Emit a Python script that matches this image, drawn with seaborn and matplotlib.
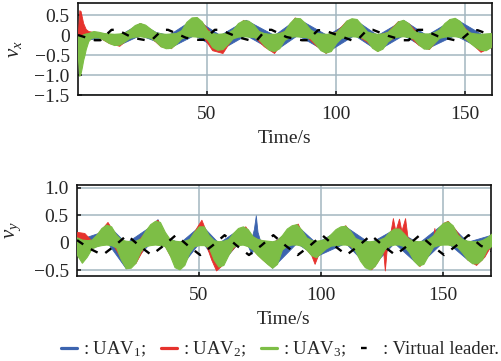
import matplotlib
matplotlib.use("Agg")
import matplotlib.pyplot as plt
from matplotlib.lines import Line2D
import seaborn as sns

# ---------------- data ----------------
# v_x panel: UAV envelopes (upper / lower) sampled over time
vx_t = [0, 0.5, 1, 1.5, 2, 2.5, 3, 4, 5] + list(range(6, 161, 2))
vx_uav3_hi = [0.0, -0.05, -0.02, 0.0, 0.02, 0.03, 0.04, 0.05, 0.08,
              0.1, 0.08, 0.05, 0.04, 0.03, 0.04, 0.06, 0.14, 0.25, 0.3,
              0.26, 0.16, 0.07, 0.04, 0.03, 0.04, 0.05, 0.12, 0.33, 0.44,
              0.45, 0.34, 0.12, 0.05, 0.03, 0.04, 0.06, 0.14, 0.3, 0.37,
              0.36, 0.26, 0.1, 0.05, 0.03, 0.03, 0.05, 0.1, 0.3, 0.43,
              0.42, 0.3, 0.14, 0.06, 0.04, 0.03, 0.04, 0.07, 0.2, 0.36,
              0.42, 0.4, 0.25, 0.09, 0.05, 0.03, 0.04, 0.08, 0.2, 0.34,
              0.38, 0.3, 0.12, 0.06, 0.04, 0.04, 0.07, 0.14, 0.3, 0.4,
              0.43, 0.35, 0.15, 0.06, 0.04, 0.03, 0.04, 0.05]
vx_uav3_lo = [-0.6, -1.02, -0.95, -0.8, -0.62, -0.5, -0.35, -0.15, -0.08,
              -0.06, -0.06, -0.12, -0.2, -0.25, -0.24, -0.16, -0.07, -0.04, -0.03,
              -0.05, -0.07, -0.15, -0.28, -0.33, -0.32, -0.22, -0.08, -0.04, -0.03,
              -0.04, -0.05, -0.1, -0.3, -0.37, -0.35, -0.22, -0.08, -0.04, -0.03,
              -0.04, -0.05, -0.1, -0.25, -0.37, -0.4, -0.33, -0.12, -0.05, -0.03,
              -0.04, -0.05, -0.08, -0.22, -0.38, -0.44, -0.4, -0.2, -0.07, -0.04,
              -0.03, -0.04, -0.06, -0.14, -0.32, -0.4, -0.34, -0.16, -0.06, -0.04,
              -0.03, -0.05, -0.09, -0.24, -0.34, -0.34, -0.2, -0.07, -0.04, -0.03,
              -0.03, -0.05, -0.08, -0.2, -0.3, -0.37, -0.38, -0.3]

vx_uav2_t = [0, 0.5, 1, 1.5, 2, 3, 4] + list(range(8, 161, 4))
vx_uav2_hi = [0.1, 0.62, 0.6, 0.45, 0.3, 0.15, 0.1,
              0.05, 0.0, 0.0, 0.12, 0.3, 0.1, 0.0, 0.0, 0.1, 0.42,
              0.32, 0.02, 0.0, 0.1, 0.38, 0.2, 0.0, 0.0, 0.1, 0.44,
              0.25, 0.0, 0.0, 0.08, 0.36, 0.36, 0.05, 0.0, 0.08, 0.35,
              0.3, 0.02, 0.0, 0.1, 0.4, 0.3, 0.05, 0.0, 0.03]
vx_uav2_lo = [-0.1, 0.0, 0.0, 0.0, 0.0, -0.02, -0.05,
              -0.05, -0.2, -0.27, -0.04, 0.0, -0.05, -0.28, -0.33, -0.06, 0.0,
              0.0, -0.38, -0.45, -0.05, 0.0, -0.02, -0.28, -0.45, -0.08, 0.0,
              0.0, -0.25, -0.45, -0.1, 0.0, 0.0, -0.17, -0.4, -0.15, 0.0,
              -0.02, -0.25, -0.35, -0.05, 0.0, 0.0, -0.18, -0.42, -0.3]

vx_uav1_t = [0, 2, 4, 10, 16, 24, 30, 35, 45, 55, 65, 76, 85, 96.5,
             107, 116, 126, 135, 146, 157, 160]
vx_uav1_hi = [0.0, 0.1, 0.05, 0.04, 0.0, 0.3, 0.08, 0.0, 0.42, 0.0, 0.38,
              0.0, 0.42, 0.0, 0.4, 0.0, 0.38, 0.0, 0.42, 0.0, 0.02]
vx_uav1_lo = [-0.3, -0.4, -0.1, -0.08, -0.24, 0.0, -0.15, -0.33, 0.0, -0.37,
              0.0, -0.4, 0.0, -0.42, 0.0, -0.38, 0.0, -0.34, 0.0, -0.36, -0.28]

vx_leader_t = [0, 6.5, 8.7, 13, 15.2, 21.2, 26.3, 28.5, 32.7, 34.9, 41.9,
               46.6, 48.8, 53, 55.2, 61.8, 67, 69.2, 72.8, 75, 80.8, 86.8,
               89, 93, 95.2, 100.5, 106, 108.2, 112.1, 114.3, 120.2, 126,
               128.2, 131.7, 133.9, 139.5, 146, 148.2, 152.7, 154.9, 160]
vx_leader_v = [0.0, -0.13, -0.13, 0.13, 0.13, -0.07, -0.13, -0.13, 0.13, 0.13,
               -0.07, -0.12, -0.12, 0.13, 0.13, -0.05, -0.14, -0.14, 0.13, 0.13,
               -0.05, -0.13, -0.13, 0.12, 0.12, 0.0, -0.13, -0.13, 0.13, 0.13,
               -0.02, -0.13, -0.13, 0.13, 0.13, -0.03, -0.13, -0.13, 0.12, 0.12,
               0.0]

# v_y panel
vy_t = list(range(0, 171, 2))
vy_uav3_hi = [0.1, 0.06, 0.05, 0.06, 0.15, 0.27, 0.33, 0.3, 0.15, 0.06,
              0.04, 0.03, 0.04, 0.08, 0.22, 0.34, 0.4, 0.38, 0.2, 0.07,
              0.04, 0.03, 0.04, 0.07, 0.2, 0.3, 0.3, 0.14, 0.05, 0.03,
              0.04, 0.07, 0.18, 0.27, 0.3, 0.25, 0.12, 0.07, 0.05, 0.04,
              0.03, 0.05, 0.14, 0.26, 0.32, 0.34, 0.24, 0.1, 0.05, 0.04,
              0.05, 0.08, 0.16, 0.25, 0.3, 0.31, 0.22, 0.09, 0.05, 0.03,
              0.03, 0.04, 0.06, 0.1, 0.2, 0.26, 0.26, 0.17, 0.07, 0.04,
              0.03, 0.04, 0.07, 0.14, 0.27, 0.36, 0.39, 0.32, 0.15, 0.07,
              0.04, 0.03, 0.03, 0.05, 0.1, 0.17]
vy_uav3_lo = [-0.22, -0.36, -0.25, -0.1, -0.06, -0.04, -0.03, -0.04, -0.08, -0.3,
              -0.46, -0.45, -0.36, -0.15, -0.06, -0.04, -0.03, -0.04, -0.06, -0.22,
              -0.44, -0.48, -0.4, -0.18, -0.06, -0.04, -0.04, -0.08, -0.3, -0.43,
              -0.4, -0.22, -0.07, -0.04, -0.03, -0.06, -0.12, -0.22, -0.3, -0.38,
              -0.45, -0.38, -0.12, -0.05, -0.03, -0.03, -0.05, -0.12, -0.22, -0.26,
              -0.18, -0.1, -0.05, -0.04, -0.03, -0.03, -0.05, -0.14, -0.32, -0.44,
              -0.48, -0.42, -0.28, -0.12, -0.05, -0.03, -0.03, -0.06, -0.16, -0.32,
              -0.41, -0.38, -0.22, -0.07, -0.04, -0.03, -0.03, -0.05, -0.08, -0.18,
              -0.3, -0.37, -0.37, -0.3, -0.12, -0.05]

vy_uav2_t = [0, 3, 6, 10, 12.5, 15, 18, 20.5, 24, 28, 30, 33, 36, 38, 42, 46,
             49, 51, 53, 55, 57, 59, 62, 66, 69, 72, 76, 80, 84, 88, 90.5, 93,
             96, 97.4, 99, 102, 106, 110, 114, 118, 120.6, 123, 125.5, 126.2,
             127, 128.5, 129.5, 130.5, 132, 133, 134.5, 135.5, 138, 140.4, 144,
             146, 146.5, 147, 150, 152, 155, 158, 160, 163.6, 167, 170]
vy_uav2_hi = [0.2, 0.18, 0.04, 0.25, 0.38, 0.2, 0.02, 0.0, 0.0, 0.2, 0.32,
              0.42, 0.14, 0.03, 0.0, 0.05, 0.28, 0.42, 0.2, 0.05, 0.0, 0.0,
              0.04, 0.24, 0.3, 0.1, 0.04, 0.0, 0.12, 0.3, 0.35, 0.1, 0.02,
              0.0, 0.02, 0.05, 0.22, 0.32, 0.06, 0.0, 0.0, 0.03, 0.08, 0.1,
              0.12, 0.2, 0.45, 0.22, 0.44, 0.22, 0.45, 0.1, 0.02, 0.0, 0.05,
              0.08, 0.27, 0.12, 0.36, 0.4, 0.25, 0.05, 0.02, 0.0, 0.02, 0.14]
vy_uav2_lo = [-0.1, -0.05, -0.06, 0.0, 0.02, -0.05, -0.28, -0.44, -0.36,
              -0.04, 0.0, 0.02, -0.05, -0.22, -0.46, -0.14, -0.02, 0.0, -0.05,
              -0.3, -0.5, -0.42, -0.2, 0.0, 0.0, -0.12, -0.3, -0.44, -0.1, 0.0,
              0.0, -0.06, -0.22, -0.38, -0.2, -0.08, 0.0, 0.0, -0.12, -0.42,
              -0.48, -0.35, -0.15, -0.5, -0.1, -0.03, 0.0, 0.0, 0.0, 0.0, -0.02,
              -0.08, -0.3, -0.42, -0.2, -0.05, -0.04, -0.03, 0.02, 0.02, 0.0,
              -0.15, -0.3, -0.4, -0.25, -0.02]

vy_uav1_t = [0, 10, 12.5, 20, 30, 33, 36, 42, 50, 52, 58, 66, 70, 71.5, 72.5,
             73.3, 74, 75, 80, 90, 98, 110, 120, 130, 140, 150, 152, 160, 170]
vy_uav1_hi = [0.05, 0.2, 0.33, 0.0, 0.3, 0.43, 0.12, 0.0, 0.3, 0.28, 0.0,
              0.24, 0.2, 0.08, 0.25, 0.5, 0.2, 0.05, 0.0, 0.32, 0.0, 0.3, 0.0,
              0.25, 0.0, 0.35, 0.37, 0.02, 0.15]
vy_uav1_lo = [-0.2, -0.02, 0.0, -0.46, 0.0, 0.02, -0.04, -0.45, 0.0, -0.02,
              -0.42, 0.0, -0.05, -0.2, -0.1, -0.05, -0.1, -0.22, -0.45, 0.0,
              -0.24, 0.0, -0.46, 0.0, -0.4, 0.02, 0.0, -0.3, -0.02]

vy_leader_t = [0, 5, 10.5, 15.5, 20.5, 25.5, 30.5, 35.5, 40.5, 45.5, 50.5,
               55.5, 60.5, 65.5, 70.5, 75.5, 80.5, 85.5, 90.5, 95.5, 100.5,
               105.5, 110.5, 115.5, 120.5, 125.5, 130.5, 135.5, 140.5, 145.5,
               150.5, 155.5, 160.5, 165.5, 170]
vy_leader_v = [0.05, -0.1, -0.22, -0.05, 0.14, -0.05, -0.22, -0.05, 0.14,
               -0.05, -0.22, -0.05, 0.14, -0.05, -0.22, -0.05, 0.14, -0.05,
               -0.22, -0.05, 0.14, -0.05, -0.22, -0.05, 0.14, -0.05, -0.22,
               -0.05, 0.14, -0.05, -0.22, -0.05, 0.14, -0.05, -0.15]

vx_yticks = [0.5, 0, -0.5, -1.0, -1.5]
vx_yticklabels = ["0.5", "0", "\u22120.5", "\u22121.0", "\u22121.5"]
vy_yticks = [1.0, 0.5, 0, -0.5]
vy_yticklabels = ["1.0", "0.5", "0", "\u22120.5"]
x_ticks = [50, 100, 150]
series_names = [": UAV$_1$;", ": UAV$_2$;", ": UAV$_3$;", ": Virtual leader."]

# ---------------- style ----------------
sns.set_style("white")
plt.rcParams["font.family"] = ["Liberation Serif", "DejaVu Serif"]
plt.rcParams["mathtext.fontset"] = "custom"
plt.rcParams["mathtext.rm"] = "Liberation Serif"
plt.rcParams["mathtext.it"] = "Liberation Serif:italic"

C_BLUE = "#3C64AF"
C_RED = "#E6322D"
C_GREEN = "#7DBE46"
C_GRID = "#A3B6C0"
FS = 14

fig = plt.figure(figsize=(5.02, 3.61), dpi=100)
ax_top = fig.add_axes([0.1554, 0.7368, 0.8239, 0.2548])
ax_bot = fig.add_axes([0.1534, 0.2355, 0.8241, 0.2521])


def draw_panel(ax, b_t, b_hi, b_lo, r_t, r_hi, r_lo, g_t, g_hi, g_lo, l_t, l_v):
    ax.fill_between(b_t, b_lo, b_hi, color=C_BLUE, lw=0.6, zorder=2)
    ax.fill_between(r_t, r_lo, r_hi, color=C_RED, lw=0.6, zorder=3)
    ax.fill_between(g_t, g_lo, g_hi, color=C_GREEN, lw=0.8, zorder=4)
    sns.lineplot(x=l_t, y=l_v, ax=ax, color="black", linewidth=1.7,
                 linestyle=(0, (3.2, 3.8)), zorder=5)


draw_panel(ax_top, vx_uav1_t, vx_uav1_hi, vx_uav1_lo,
           vx_uav2_t, vx_uav2_hi, vx_uav2_lo,
           vx_t, vx_uav3_hi, vx_uav3_lo, vx_leader_t, vx_leader_v)
draw_panel(ax_bot, vy_uav1_t, vy_uav1_hi, vy_uav1_lo,
           vy_uav2_t, vy_uav2_hi, vy_uav2_lo,
           vy_t, vy_uav3_hi, vy_uav3_lo, vy_leader_t, vy_leader_v)

ax_top.set_xlim(0, 160.3)
ax_top.set_ylim(-1.5, 0.8)
ax_bot.set_xlim(0, 169.6)
ax_bot.set_ylim(-0.6, 1.05)

for ax, yt, yl, lab in [(ax_top, vx_yticks, vx_yticklabels, "$v_x$"),
                        (ax_bot, vy_yticks, vy_yticklabels, "$v_y$")]:
    ax.set_xticks(x_ticks)
    ax.set_xticklabels([str(v) for v in x_ticks])
    ax.set_yticks(yt)
    ax.set_yticklabels(yl)
    ax.grid(True, color=C_GRID, linewidth=1.1, zorder=1)
    ax.set_axisbelow(True)
    ax.tick_params(axis="both", direction="in", length=3, width=1.2,
                   color="#222222", labelsize=FS, bottom=True, left=True)
    ax.tick_params(axis="x", pad=8)
    ax.tick_params(axis="y", pad=6)
    for s in ax.spines.values():
        s.set_visible(True)
        s.set_color("#111111")
        s.set_linewidth(1.2)
    ax.set_xlabel("Time/s", fontsize=FS, labelpad=5)
    ax.set_ylabel(lab, fontsize=FS + 1)
    ax.yaxis.set_label_coords(-0.13, 0.5)

handles = [Line2D([], [], color=C_BLUE, lw=2.3),
           Line2D([], [], color=C_RED, lw=2.3),
           Line2D([], [], color=C_GREEN, lw=2.3),
           Line2D([], [], color="black", lw=1.7, linestyle=(0, (2.4, 10)))]
fig.legend(handles, series_names, loc="center", bbox_to_anchor=(0.558, 0.033),
           ncol=4, frameon=False, fontsize=13.5, handlelength=0.85,
           handletextpad=0.35, columnspacing=0.75, borderpad=0, borderaxespad=0)

fig.savefig("out.png", dpi=100)
